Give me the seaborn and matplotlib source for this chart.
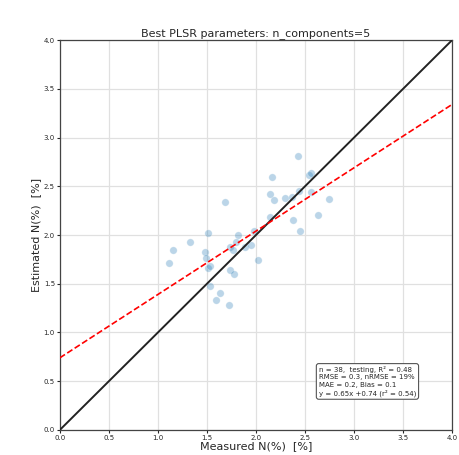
import numpy as np
import pandas as pd
import seaborn as sns
import matplotlib.pyplot as plt

# measured vs estimated N(%) for the test set
measured = [2.43, 2.16, 2.54, 2.56, 2.14, 2.18, 2.30, 2.37, 2.44, 2.56,
            2.74, 1.68, 2.63, 2.14, 2.38, 2.45, 1.51, 1.98, 1.82, 1.33,
            1.15, 1.48, 1.73, 1.80, 1.77, 1.89, 1.95, 1.11, 1.49, 2.02,
            1.51, 1.53, 1.73, 1.78, 1.53, 1.63, 1.59, 1.72]
estimated = [2.81, 2.59, 2.62, 2.64, 2.42, 2.36, 2.38, 2.39, 2.45, 2.44,
             2.37, 2.34, 2.21, 2.18, 2.15, 2.04, 2.02, 2.04, 2.00, 1.93,
             1.85, 1.83, 1.88, 1.93, 1.85, 1.88, 1.90, 1.71, 1.76, 1.74,
             1.66, 1.68, 1.64, 1.60, 1.48, 1.40, 1.33, 1.28]

slope, intercept = 0.65, 0.74
lims = [0.0, 4.0]
stats_text = ("n = 38,  testing, R\u00b2 = 0.48\n"
              "RMSE = 0.3, nRMSE = 19%\n"
              "MAE = 0.2, Bias = 0.1\n"
              "y = 0.65x +0.74 (r\u00b2 = 0.54)")

df = pd.DataFrame({"measured": measured, "estimated": estimated})

sns.set_style("white")
fig = plt.figure(figsize=(4.6, 4.55), dpi=100)
ax = fig.add_axes([0.130, 0.055, 0.853, 0.857])

sns.scatterplot(data=df, x="measured", y="estimated", ax=ax,
                color="tab:blue", alpha=0.3, s=28, edgecolor="white",
                linewidth=0.5, zorder=3)

xs = np.array(lims)
ax.plot(xs, xs, color="#222222", lw=1.4, zorder=4)
ax.plot(xs, slope * xs + intercept, color="red", ls="--", lw=1.2, zorder=4)

ax.set_xlim(lims)
ax.set_ylim(lims)
ax.set_xticks(np.arange(0, 4.01, 0.5))
ax.set_yticks(np.arange(0, 4.01, 0.5))
ax.grid(True, color="#e0e0e0", lw=0.9)
ax.tick_params(labelsize=5, length=2, pad=1.5, left=True, bottom=True)
for sp in ax.spines.values():
    sp.set_color("#444444")
    sp.set_linewidth(0.9)

ax.set_xlabel("Measured N(%)  [%]", fontsize=8, labelpad=0)
ax.set_ylabel("Estimated N(%)  [%]", fontsize=8, labelpad=2)
ax.set_title("Best PLSR parameters: n_components=5", fontsize=8, pad=3)

ax.text(0.66, 0.085, stats_text, transform=ax.transAxes, fontsize=5,
        va="bottom", ha="left", linespacing=1.3,
        bbox=dict(boxstyle="round,pad=0.35", fc="white", ec="#555555", lw=0.8))

fig.savefig("out.png", dpi=100)
